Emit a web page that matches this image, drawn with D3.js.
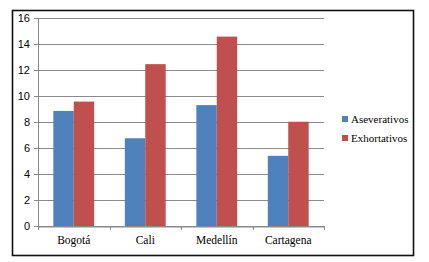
<!DOCTYPE html>
<html>
<head>
<meta charset="utf-8">
<script src="https://cdn.jsdelivr.net/npm/d3@7"></script>
<style>
    body { margin: 0; background: #fff; }
    svg { display: block; }
</style>
</head>
<body>
<div id="chart"></div>
<script>
// data
const categories = ["Bogotá", "Cali", "Medellín", "Cartagena"];
const seriesNames = ["Aseverativos", "Exhortativos"];
const aseverativos = [8.85, 6.75, 9.3, 5.4];
const exhortativos = [9.57, 12.45, 14.57, 8.02];
const yTicks = [0, 2, 4, 6, 8, 10, 12, 14, 16];

const colors = ["#4F81BD", "#C0504D"];
const serif = "'Times New Roman', Times, 'Liberation Serif', 'DejaVu Serif', 'Noto Serif', serif";
const sans = "'Liberation Sans', Arial, sans-serif";

const width = 429, height = 262;
const margin = {top: 18, right: 105, bottom: 36, left: 38};

let svg = d3.select("#chart").append("svg")
    .attr("width", width)
    .attr("height", height);

// outer frame
svg.append("rect")
    .attr("x", 12.5).attr("y", 10.5)
    .attr("width", 401).attr("height", 245)
    .attr("fill", "none")
    .attr("stroke", "#111")
    .attr("stroke-width", 1.6);

let x0 = d3.scaleBand()
    .domain(categories)
    .range([margin.left, width - margin.right]);

let x1 = d3.scaleBand()
    .domain(seriesNames)
    .range([0, x0.bandwidth()])
    .paddingOuter(0.75);

let y = d3.scaleLinear()
    .domain([0, 16])
    .range([height - margin.bottom, margin.top]);

// gridlines
svg.append("g")
    .selectAll("line")
    .data(yTicks)
    .enter()
    .append("line")
    .attr("x1", margin.left - 4)
    .attr("x2", width - margin.right)
    .attr("y1", d => Math.round(y(d)) + 0.5)
    .attr("y2", d => Math.round(y(d)) + 0.5)
    .attr("stroke", "#8a8a8a")
    .attr("stroke-width", 1);

// y labels
svg.append("g")
    .selectAll("text")
    .data(yTicks)
    .enter()
    .append("text")
    .attr("x", margin.left - 8)
    .attr("y", d => y(d) + 4)
    .attr("text-anchor", "end")
    .style("font-family", sans)
    .style("font-size", "11px")
    .attr("fill", "#000")
    .text(d => d);

// bars
let table = categories.map((c, i) => ({cat: c, values: [aseverativos[i], exhortativos[i]]}));

let groups = svg.append("g")
    .selectAll("g")
    .data(table)
    .enter()
    .append("g")
    .attr("transform", d => `translate(${x0(d.cat)},0)`);

groups.selectAll("rect")
    .data(d => d.values.map((v, k) => ({name: seriesNames[k], value: v, k: k})))
    .enter()
    .append("rect")
    .attr("x", d => x1(d.name))
    .attr("y", d => y(d.value))
    .attr("width", x1.bandwidth())
    .attr("height", d => y(0) - y(d.value))
    .attr("fill", d => colors[d.k]);

// axes lines
svg.append("line")
    .attr("x1", margin.left + 0.5).attr("x2", margin.left + 0.5)
    .attr("y1", margin.top).attr("y2", y(0))
    .attr("stroke", "#8a8a8a");

let xAxis = d3.axisBottom(x0).tickSize(0).tickPadding(9);
let gx = svg.append("g")
    .attr("transform", `translate(0,${Math.round(y(0)) + 0.5})`)
    .call(xAxis);
gx.select(".domain").attr("stroke", "#8a8a8a");
gx.selectAll("text")
    .style("font-family", serif)
    .style("font-size", "11.5px")
    .attr("fill", "#000");

// category boundary ticks
svg.append("g")
    .selectAll("line")
    .data(categories.concat(["end"]))
    .enter()
    .append("line")
    .attr("x1", (d, i) => Math.round(margin.left + i * x0.step()) + 0.5)
    .attr("x2", (d, i) => Math.round(margin.left + i * x0.step()) + 0.5)
    .attr("y1", y(0))
    .attr("y2", y(0) + 4)
    .attr("stroke", "#8a8a8a");

// legend
let legend = svg.append("g")
    .attr("transform", "translate(342,119)");

let items = legend.selectAll("g")
    .data(seriesNames)
    .enter()
    .append("g")
    .attr("transform", (d, i) => `translate(0,${i * 19})`);

items.append("rect")
    .attr("x", 0).attr("y", -3)
    .attr("width", 6).attr("height", 6)
    .attr("fill", (d, i) => colors[i]);

items.append("text")
    .attr("x", 9)
    .attr("y", 4)
    .style("font-family", serif)
    .style("font-size", "11px")
    .attr("fill", "#000")
    .text(d => d);
</script>
</body>
</html>
